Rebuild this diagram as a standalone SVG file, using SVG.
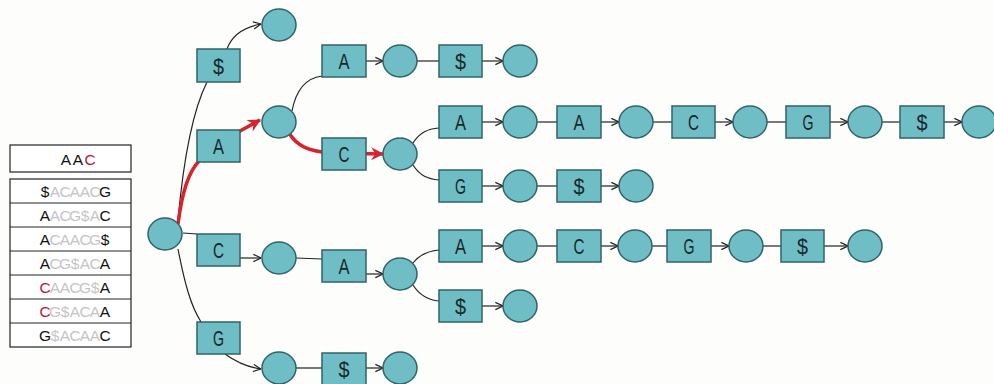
<svg xmlns="http://www.w3.org/2000/svg" width="994" height="384" viewBox="0 0 994 384">
<defs>
<style>
.c{fill:#6fbec5;stroke:#2f6467;stroke-width:1.5}
.b{fill:#6fbec5;stroke:#2f6467;stroke-width:1.5}
.t{font-family:"Liberation Sans",Arial,sans-serif;font-size:22px;fill:#17282a;text-anchor:middle}
.e{fill:none;stroke:#222;stroke-width:1.2}
.ea{fill:none;stroke:#222;stroke-width:1.2;marker-end:url(#ar)}
.r{fill:none;stroke:#d8232c;stroke-width:3.5;marker-end:url(#rar)}
.tb{fill:#fff;stroke:#222;stroke-width:1.2}
.tx{font-family:"Liberation Sans",Arial,sans-serif;font-size:15.5px;fill:#111;text-anchor:middle}
.g{fill:#c4c4c4}
.red{fill:#b8143c}
</style>
<marker id="ar" viewBox="0 0 10 10" refX="9.5" refY="5" markerWidth="9" markerHeight="10" markerUnits="userSpaceOnUse" orient="auto">
<path d="M1,1 L9.5,5 L1,9" fill="none" stroke="#222" stroke-width="1.3"/>
</marker>
<marker id="rar" viewBox="0 0 12 12" refX="11" refY="6" markerWidth="14" markerHeight="13" markerUnits="userSpaceOnUse" orient="auto">
<path d="M0,0 L12,6 L0,12 L4,6 Z" fill="#d8232c"/>
</marker>
</defs>
<rect width="994" height="384" fill="#fdfdfb"/>

<g id="table">
<rect class="tb" x="10" y="145" width="121" height="27"/>
<text class="tx" y="165" font-size="17"><tspan x="66">A</tspan><tspan x="78">A</tspan><tspan x="90" class="red">C</tspan></text>
<rect class="tb" x="10" y="179" width="121" height="168"/>
<line x1="10" y1="203" x2="131" y2="203" stroke="#222"/>
<line x1="10" y1="227" x2="131" y2="227" stroke="#222"/>
<line x1="10" y1="251" x2="131" y2="251" stroke="#222"/>
<line x1="10" y1="275" x2="131" y2="275" stroke="#222"/>
<line x1="10" y1="299" x2="131" y2="299" stroke="#222"/>
<line x1="10" y1="323" x2="131" y2="323" stroke="#222"/>
<text class="tx" y="197"><tspan x="45">$</tspan><tspan class="g" x="55">A</tspan><tspan class="g" x="65">C</tspan><tspan class="g" x="75">A</tspan><tspan class="g" x="85">A</tspan><tspan class="g" x="95">C</tspan><tspan x="105">G</tspan></text>
<text class="tx" y="221"><tspan x="45">A</tspan><tspan class="g" x="55">A</tspan><tspan class="g" x="65">C</tspan><tspan class="g" x="75">G</tspan><tspan class="g" x="85">$</tspan><tspan class="g" x="95">A</tspan><tspan x="105">C</tspan></text>
<text class="tx" y="245"><tspan x="45">A</tspan><tspan class="g" x="55">C</tspan><tspan class="g" x="65">A</tspan><tspan class="g" x="75">A</tspan><tspan class="g" x="85">C</tspan><tspan class="g" x="95">G</tspan><tspan x="105">$</tspan></text>
<text class="tx" y="269"><tspan x="45">A</tspan><tspan class="g" x="55">C</tspan><tspan class="g" x="65">G</tspan><tspan class="g" x="75">$</tspan><tspan class="g" x="85">A</tspan><tspan class="g" x="95">C</tspan><tspan x="105">A</tspan></text>
<text class="tx" y="293"><tspan class="red" x="45">C</tspan><tspan class="g" x="55">A</tspan><tspan class="g" x="65">A</tspan><tspan class="g" x="75">C</tspan><tspan class="g" x="85">G</tspan><tspan class="g" x="95">$</tspan><tspan x="105">A</tspan></text>
<text class="tx" y="317"><tspan class="red" x="45">C</tspan><tspan class="g" x="55">G</tspan><tspan class="g" x="65">$</tspan><tspan class="g" x="75">A</tspan><tspan class="g" x="85">C</tspan><tspan class="g" x="95">A</tspan><tspan x="105">A</tspan></text>
<text class="tx" y="341"><tspan x="45">G</tspan><tspan class="g" x="55">$</tspan><tspan class="g" x="65">A</tspan><tspan class="g" x="75">C</tspan><tspan class="g" x="85">A</tspan><tspan class="g" x="95">A</tspan><tspan x="105">C</tspan></text>
</g>

<g id="connectors">
<path class="e" d="M178,220 C183,165 192,112 207,82"/>
<path class="ea" d="M227,49 C232,35 245,27 261,24"/>
<path class="e" d="M183,233 L197,234"/>
<path class="ea" d="M240,258 L261,258"/>
<path class="e" d="M178,249 C185,285 191,306 201,322"/>
<path class="ea" d="M225,354 C236,362 246,367 261,369"/>
<path class="e" d="M292,111 C296,90 306,78 322,76"/>
<path class="ea" d="M366,61 L383,61"/>
<path class="e" d="M417,61 L439,61"/>
<path class="ea" d="M482,61 L503,61"/>
<path class="e" d="M413,143 C420,132 428,129 439,128"/>
<path class="e" d="M413,165 C420,176 428,179 439,180"/>
<path class="ea" d="M482,122 L503,122"/>
<path class="e" d="M537,122 L557,122"/>
<path class="ea" d="M601,122 L619,122"/>
<path class="e" d="M653,122 L672,122"/>
<path class="ea" d="M715,122 L733,122"/>
<path class="e" d="M767,122 L786,122"/>
<path class="ea" d="M830,122 L848,122"/>
<path class="e" d="M882,122 L900,122"/>
<path class="ea" d="M944,122 L962,122"/>
<path class="ea" d="M482,186 L503,186"/>
<path class="e" d="M537,186 L557,186"/>
<path class="ea" d="M601,186 L619,186"/>
<path class="e" d="M296,258 L322,259"/>
<path class="ea" d="M366,274 L383,274"/>
<path class="e" d="M413,263 C420,254 428,251 439,250"/>
<path class="e" d="M413,285 C420,296 428,300 439,301"/>
<path class="ea" d="M482,246 L503,246"/>
<path class="e" d="M537,246 L557,246"/>
<path class="ea" d="M601,246 L618,246"/>
<path class="e" d="M652,246 L667,246"/>
<path class="ea" d="M711,246 L729,246"/>
<path class="e" d="M763,246 L781,246"/>
<path class="ea" d="M824,246 L848,246"/>
<path class="ea" d="M482,306 L503,306"/>
<path class="e" d="M296,368 L322,368"/>
<path class="ea" d="M366,368 L383,368"/>
<path class="r" d="M178,224 C182,193 188,172 200,160 L240,131 L260,120"/>
<path class="r" d="M289,133 C297,146 308,151 330,153 L383,154"/>
</g>

<g id="n0"><ellipse class="c" cx="165" cy="234" rx="17" ry="16"/></g>
<g id="n1"><ellipse class="c" cx="279" cy="25" rx="17" ry="16"/></g>
<g id="n2"><ellipse class="c" cx="279" cy="122" rx="17" ry="16"/></g>
<g id="n3"><ellipse class="c" cx="400" cy="61" rx="17" ry="16"/></g>
<g id="n4"><ellipse class="c" cx="520" cy="61" rx="17" ry="16"/></g>
<g id="n5"><ellipse class="c" cx="400" cy="154" rx="17" ry="16"/></g>
<g id="n6"><ellipse class="c" cx="520" cy="122" rx="17" ry="16"/></g>
<g id="n7"><ellipse class="c" cx="636" cy="122" rx="17" ry="16"/></g>
<g id="n8"><ellipse class="c" cx="750" cy="122" rx="17" ry="16"/></g>
<g id="n9"><ellipse class="c" cx="865" cy="122" rx="17" ry="16"/></g>
<g id="n10"><ellipse class="c" cx="979" cy="122" rx="17" ry="16"/></g>
<g id="n11"><ellipse class="c" cx="520" cy="186" rx="17" ry="16"/></g>
<g id="n12"><ellipse class="c" cx="636" cy="186" rx="17" ry="16"/></g>
<g id="n13"><ellipse class="c" cx="279" cy="258" rx="17" ry="16"/></g>
<g id="n14"><ellipse class="c" cx="400" cy="274" rx="17" ry="16"/></g>
<g id="n15"><ellipse class="c" cx="520" cy="246" rx="17" ry="16"/></g>
<g id="n16"><ellipse class="c" cx="635" cy="246" rx="17" ry="16"/></g>
<g id="n17"><ellipse class="c" cx="746" cy="246" rx="17" ry="16"/></g>
<g id="n18"><ellipse class="c" cx="865" cy="246" rx="17" ry="16"/></g>
<g id="n19"><ellipse class="c" cx="520" cy="306" rx="17" ry="16"/></g>
<g id="n20"><ellipse class="c" cx="279" cy="368" rx="17" ry="16"/></g>
<g id="n21"><ellipse class="c" cx="400" cy="368" rx="17" ry="16"/></g>

<g id="b1"><rect class="b" x="197" y="49" width="43" height="33"/><text class="t" x="218.5" y="74" textLength="11" lengthAdjust="spacingAndGlyphs">$</text></g>
<g id="b2"><rect class="b" x="197" y="130" width="43" height="32"/><text class="t" x="218.5" y="154" textLength="11" lengthAdjust="spacingAndGlyphs">A</text></g>
<g id="b3"><rect class="b" x="197" y="234" width="43" height="32"/><text class="t" x="218.5" y="258" textLength="11" lengthAdjust="spacingAndGlyphs">C</text></g>
<g id="b4"><rect class="b" x="197" y="322" width="43" height="32"/><text class="t" x="218.5" y="346" textLength="11" lengthAdjust="spacingAndGlyphs">G</text></g>
<g id="b5"><rect class="b" x="322" y="45" width="44" height="32"/><text class="t" x="344" y="69" textLength="11" lengthAdjust="spacingAndGlyphs">A</text></g>
<g id="b6"><rect class="b" x="439" y="45" width="43" height="32"/><text class="t" x="460.5" y="69" textLength="11" lengthAdjust="spacingAndGlyphs">$</text></g>
<g id="b7"><rect class="b" x="322" y="138" width="44" height="32"/><text class="t" x="344" y="162" textLength="11" lengthAdjust="spacingAndGlyphs">C</text></g>
<g id="b8"><rect class="b" x="439" y="106" width="43" height="32"/><text class="t" x="460.5" y="130" textLength="11" lengthAdjust="spacingAndGlyphs">A</text></g>
<g id="b9"><rect class="b" x="557" y="106" width="44" height="32"/><text class="t" x="579" y="130" textLength="11" lengthAdjust="spacingAndGlyphs">A</text></g>
<g id="b10"><rect class="b" x="672" y="106" width="43" height="32"/><text class="t" x="693.5" y="130" textLength="11" lengthAdjust="spacingAndGlyphs">C</text></g>
<g id="b11"><rect class="b" x="786" y="106" width="44" height="32"/><text class="t" x="808" y="130" textLength="11" lengthAdjust="spacingAndGlyphs">G</text></g>
<g id="b12"><rect class="b" x="900" y="106" width="44" height="32"/><text class="t" x="922" y="130" textLength="11" lengthAdjust="spacingAndGlyphs">$</text></g>
<g id="b13"><rect class="b" x="439" y="170" width="43" height="32"/><text class="t" x="460.5" y="194" textLength="11" lengthAdjust="spacingAndGlyphs">G</text></g>
<g id="b14"><rect class="b" x="557" y="170" width="44" height="32"/><text class="t" x="579" y="194" textLength="11" lengthAdjust="spacingAndGlyphs">$</text></g>
<g id="b15"><rect class="b" x="322" y="250" width="44" height="32"/><text class="t" x="344" y="274" textLength="11" lengthAdjust="spacingAndGlyphs">A</text></g>
<g id="b16"><rect class="b" x="439" y="230" width="43" height="32"/><text class="t" x="460.5" y="254" textLength="11" lengthAdjust="spacingAndGlyphs">A</text></g>
<g id="b17"><rect class="b" x="557" y="230" width="44" height="32"/><text class="t" x="579" y="254" textLength="11" lengthAdjust="spacingAndGlyphs">C</text></g>
<g id="b18"><rect class="b" x="667" y="230" width="44" height="32"/><text class="t" x="689" y="254" textLength="11" lengthAdjust="spacingAndGlyphs">G</text></g>
<g id="b19"><rect class="b" x="781" y="230" width="43" height="32"/><text class="t" x="802.5" y="254" textLength="11" lengthAdjust="spacingAndGlyphs">$</text></g>
<g id="b20"><rect class="b" x="439" y="290" width="43" height="32"/><text class="t" x="460.5" y="314" textLength="11" lengthAdjust="spacingAndGlyphs">$</text></g>
<g id="b21"><rect class="b" x="322" y="353" width="44" height="32"/><text class="t" x="344" y="377" textLength="11" lengthAdjust="spacingAndGlyphs">$</text></g>
</svg>
